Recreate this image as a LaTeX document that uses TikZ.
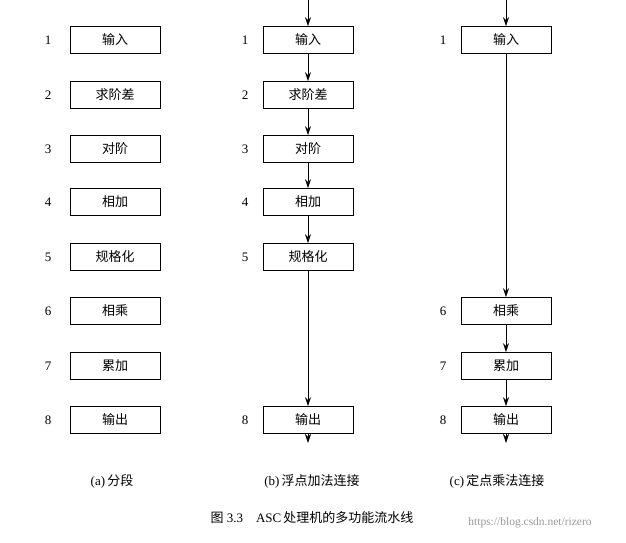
\documentclass[tikz,border=0pt]{standalone}
\usepackage{fontspec}
\setmainfont{Liberation Serif}
\newfontfamily\cjk{Noto Sans CJK SC}
\usetikzlibrary{arrows.meta}
\begin{document}
\begin{tikzpicture}[x=1pt,y=-1pt,
  stage/.style={draw,line width=0.7pt,minimum width=90pt,minimum height=27pt,inner sep=0pt,font=\cjk\fontsize{13}{13}\selectfont},
  num/.style={font=\fontsize{13}{13}\selectfont},
  flow/.style={-{Stealth[length=9pt,width=6pt]},line width=0.6pt},
  captext/.style={font=\fontsize{13}{13}\selectfont}]
\useasboundingbox (0,0) rectangle (626,543);
% column a
\foreach \t/\y/\n in {输入/40/1,求阶差/95/2,对阶/149/3,相加/202/4,规格化/257/5,相乘/311/6,累加/366/7,输出/420/8}{
  \node[stage] (a\n) at (115,\y) {\t};
  \node[num] (na\n) at (48,\y) {\n};}
% column b
\foreach \t/\y/\n in {输入/40/1,求阶差/95/2,对阶/149/3,相加/202/4,规格化/257/5,输出/420/8}{
  \node[stage] (b\n) at (308,\y) {\t};
  \node[num] (nb\n) at (245,\y) {\n};}
% column c
\foreach \t/\y/\n in {输入/40/1,相乘/311/6,累加/366/7,输出/420/8}{
  \node[stage] (c\n) at (506,\y) {\t};
  \node[num] (nc\n) at (443,\y) {\n};}
\coordinate (bt) at (308,0); \coordinate (bb) at (308,443);
\coordinate (ct) at (506,0); \coordinate (cb) at (506,443);
\draw[flow] (bt) -- (b1);
\draw[flow] (b1) -- (b2); \draw[flow] (b2) -- (b3); \draw[flow] (b3) -- (b4);
\draw[flow] (b4) -- (b5); \draw[flow] (b5) -- (b8); \draw[flow] (b8) -- (bb);
\draw[flow] (ct) -- (c1); \draw[flow] (c1) -- (c6); \draw[flow] (c6) -- (c7);
\draw[flow] (c7) -- (c8); \draw[flow] (c8) -- (cb);
\node[captext] (ca) at (112,481) {(a)\,{\cjk 分段}};
\node[captext] (cbc) at (312,481) {(b)\,{\cjk 浮点加法连接}};
\node[captext] (ccc) at (497,481) {(c)\,{\cjk 定点乘法连接}};
\node[captext] (fig) at (312,518) {{\cjk 图} 3.3\quad ASC\,{\cjk 处理机的多功能流水线}};
\node[font=\fontsize{11.5}{11.5}\selectfont,text=black!40] (wm) at (530,523) {https://blog.csdn.net/rizero};
\end{tikzpicture}
\end{document}
